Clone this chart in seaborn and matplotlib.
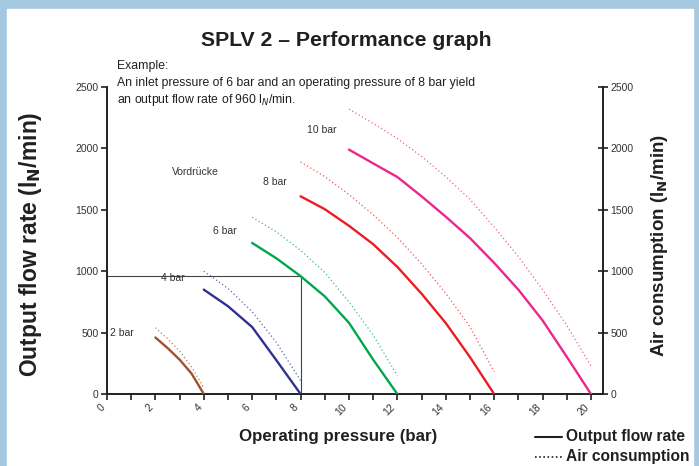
import numpy as np
import pandas as pd
import matplotlib
matplotlib.use("Agg")
import matplotlib.pyplot as plt
import seaborn as sns

# --- Data ---
inlet_labels = ["2 bar", "4 bar", "6 bar", "8 bar", "10 bar"]
curve_colors = ["#A0522D", "#2E3192", "#00A651", "#ED1C24", "#EC268F"]

pressure_2 = [2, 2.5, 3, 3.5, 4]
flow_2 = [460, 375, 280, 165, 0]
air_2 = [540, 450, 350, 220, 50]

pressure_4 = [4, 5, 6, 7, 8]
flow_4 = [850, 715, 545, 275, 0]
air_4 = [1000, 860, 670, 420, 110]

pressure_6 = [6, 7, 8, 9, 10, 11, 12]
flow_6 = [1230, 1105, 960, 795, 580, 280, 0]
air_6 = [1440, 1320, 1170, 990, 750, 480, 150]

pressure_8 = [8, 9, 10, 11, 12, 13, 14, 15, 16]
flow_8 = [1610, 1505, 1370, 1220, 1035, 817, 578, 301, 0]
air_8 = [1890, 1770, 1625, 1460, 1275, 1060, 820, 548, 182]

pressure_10 = [10, 11, 12, 13, 14, 15, 16, 17, 18, 19, 20]
flow_10 = [1990, 1878, 1767, 1610, 1444, 1270, 1068, 850, 600, 304, 0]
air_10 = [2320, 2204, 2080, 1935, 1770, 1585, 1360, 1120, 850, 560, 230]

example_pressure = 8
example_flow = 960

x_ticks = list(range(0, 21))
x_tick_labels = [str(v) if v % 2 == 0 else "" for v in x_ticks]
y_ticks = [0, 500, 1000, 1500, 2000, 2500]

pressures = [pressure_2, pressure_4, pressure_6, pressure_8, pressure_10]
flows = [flow_2, flow_4, flow_6, flow_8, flow_10]
airs = [air_2, air_4, air_6, air_8, air_10]

# --- Style ---
sns.set_style("ticks")
plt.rcParams["font.family"] = ["Liberation Sans", "DejaVu Sans"]
plt.rcParams["mathtext.fontset"] = "custom"
plt.rcParams["mathtext.rm"] = "Liberation Sans Narrow"
plt.rcParams["mathtext.bf"] = "Liberation Sans Narrow:bold"
cond = ["Liberation Sans Narrow", "Liberation Sans"]
dark = "#231F20"

fig = plt.figure(figsize=(6.99, 4.66), dpi=100, facecolor="#A5C8E1")
fig.patches.append(plt.Rectangle((7 / 699, 0), 686 / 699, 457 / 466,
                                 transform=fig.transFigure, color="white", zorder=-1))

ax = fig.add_axes([107 / 699, 1 - 394 / 466, 496 / 699, 307 / 466])
ax.set_facecolor("none")

for p, f, a, c in zip(pressures, flows, airs, curve_colors):
    df = pd.DataFrame({"p": p, "flow": f, "air": a})
    sns.lineplot(data=df, x="p", y="flow", ax=ax, color=c, lw=1.7, zorder=3)
    sns.lineplot(data=df, x="p", y="air", ax=ax, color=c, lw=0.9, alpha=0.75,
                 linestyle=(0, (1, 2)), zorder=3)

# example lines
ax.plot([0, example_pressure], [example_flow, example_flow], color="#444444", lw=0.8, zorder=2)
ax.plot([example_pressure, example_pressure], [0, example_flow], color="#444444", lw=0.8, zorder=2)

ax.set_xlim(0, 20.5)
ax.set_ylim(0, 2500)
ax.set_xticks(x_ticks)
ax.set_xticklabels(x_tick_labels, rotation=45, ha="right", va="top", fontsize=7.5, color="#333333")
ax.set_yticks(y_ticks)
ax.set_yticklabels([str(v) for v in y_ticks], fontsize=7.5, color="#333333")
ax.tick_params(axis="x", direction="out", length=4, width=1.2, color=dark, pad=2)
ax.tick_params(axis="y", direction="out", length=4, width=1.2, color=dark, pad=2)
ax.set_xlabel("")
ax.set_ylabel("")
for s in ["top", "right"]:
    ax.spines[s].set_visible(False)
for s in ["left", "bottom"]:
    ax.spines[s].set_linewidth(1.4)
    ax.spines[s].set_color(dark)

ax2 = ax.twinx()
ax2.set_ylim(0, 2500)
ax2.set_yticks(y_ticks)
ax2.set_yticklabels([str(v) for v in y_ticks], fontsize=7.5, color="#333333")
ax2.tick_params(axis="y", direction="inout", length=7, width=1.2, color=dark, pad=2)
for s in ["top", "left", "bottom"]:
    ax2.spines[s].set_visible(False)
ax2.spines["right"].set_linewidth(1.4)
ax2.spines["right"].set_color(dark)

# curve labels
label_pos = [(0.12, 497), (2.23, 945), (4.37, 1330), (6.43, 1729), (8.25, 2150)]
for (lx, ly), t in zip(label_pos, inlet_labels):
    ax.text(lx, ly, t, fontsize=7.5, color="#333333", ha="left", va="center", zorder=4)
ax.text(2.67, 1810, "Vordrücke", fontsize=7.5, color="#333333", ha="left", va="center")

# titles and texts
fig.text(346 / 699, 1 - 40 / 466, "SPLV 2 – Performance graph", family=cond,
         fontweight="bold", fontsize=15.3, ha="center", va="center", color=dark)
fig.text(117 / 699, 1 - 66 / 466, "Example:", family=cond, fontsize=8.8,
         ha="left", va="center", color=dark)
fig.text(117 / 699, 1 - 83 / 466,
         "An inlet pressure of 6 bar and an operating pressure of 8 bar yield",
         family=cond, fontsize=8.8, ha="left", va="center", color=dark)
fig.text(117 / 699, 1 - 100 / 466, "an output flow rate of 960 l$_N$/min.",
         family=cond, fontsize=8.8, ha="left", va="center", color=dark)

fig.text(31 / 699, 1 - 244 / 466, r"Output flow rate (l$_\mathbf{N}$/min)", family=cond,
         fontweight="bold", fontsize=16.5, rotation=90, ha="center", va="center", color=dark)
fig.text(660 / 699, 1 - 245 / 466, r"Air consumption (l$_\mathbf{N}$/min)", family=cond,
         fontweight="bold", fontsize=13.5, rotation=90, ha="center", va="center", color=dark)
fig.text(338 / 699, 1 - 437 / 466, "Operating pressure (bar)", family=cond,
         fontweight="bold", fontsize=12.2, ha="center", va="center", color=dark)

# legend
fig.lines.append(plt.Line2D([535 / 699, 562 / 699], [1 - 437 / 466, 1 - 437 / 466],
                            transform=fig.transFigure, color=dark, lw=1.5))
fig.lines.append(plt.Line2D([535 / 699, 562 / 699], [1 - 457 / 466, 1 - 457 / 466],
                            transform=fig.transFigure, color=dark, lw=1.2, linestyle=(0, (1, 1.5))))
fig.text(566 / 699, 1 - 437 / 466, "Output flow rate", family=cond, fontweight="bold",
         fontsize=11.2, ha="left", va="center", color=dark)
fig.text(566 / 699, 1 - 457 / 466, "Air consumption", family=cond, fontweight="bold",
         fontsize=11.2, ha="left", va="center", color=dark)

fig.savefig("out.png", dpi=100, facecolor=fig.get_facecolor())
